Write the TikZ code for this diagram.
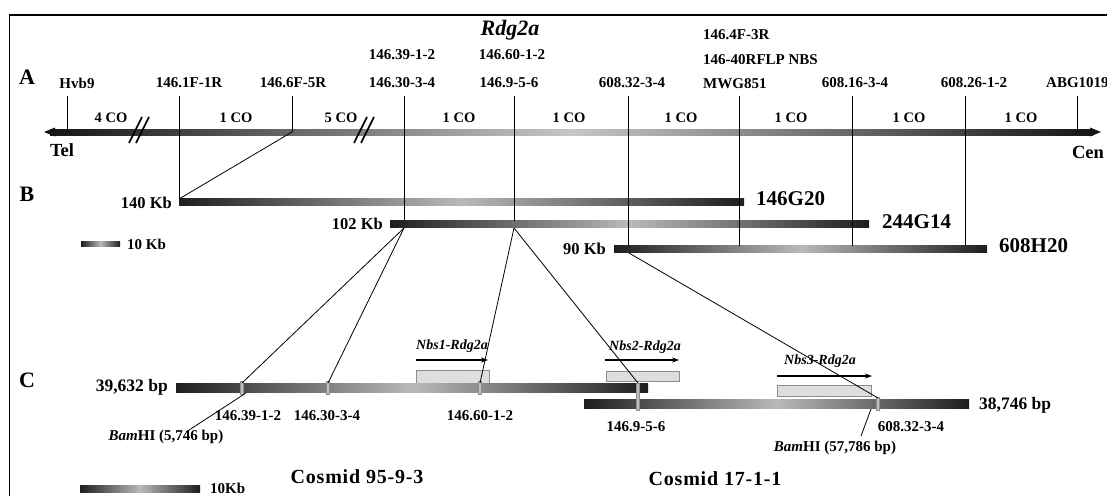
\documentclass[tikz,border=0pt]{standalone}
\usepackage{fontspec}
\setmainfont{Liberation Serif}
\usepackage{xcolor}
\usepackage{tikz}
\usetikzlibrary{backgrounds}
\usetikzlibrary{arrows.meta}
\pgfdeclarelayer{edgelayer}
\pgfdeclarelayer{nodelayer}
\pgfsetlayers{background,edgelayer,nodelayer,main}
\definecolor{barDark}{RGB}{30,30,30}
\definecolor{barLight}{RGB}{185,185,185}
\definecolor{boxFill}{RGB}{222,222,222}
\tikzstyle{none}=[inner sep=0mm]
\tikzstyle{mrk}=[inner sep=0pt,font=\bfseries\fontsize{15}{17}\selectfont]
\tikzstyle{co}=[inner sep=0pt,font=\bfseries\fontsize{14.5}{16}\selectfont]
\tikzstyle{sec}=[inner sep=0pt,font=\bfseries\fontsize{22}{24}\selectfont]
\tikzstyle{ttl}=[inner sep=0pt,font=\bfseries\itshape\fontsize{22}{24}\selectfont]
\tikzstyle{arm}=[inner sep=0pt,font=\bfseries\fontsize{18.5}{20}\selectfont]
\tikzstyle{kbl}=[inner sep=0pt,anchor=east,font=\bfseries\fontsize{16.5}{18}\selectfont]
\tikzstyle{clone}=[inner sep=0pt,anchor=west,font=\bfseries\fontsize{21}{23}\selectfont]
\tikzstyle{bpl}=[inner sep=0pt,font=\bfseries\fontsize{17.5}{19}\selectfont]
\tikzstyle{gene}=[inner sep=0pt,font=\bfseries\itshape\fontsize{14}{16}\selectfont]
\tikzstyle{cosmid}=[inner sep=0pt,font=\bfseries\fontsize{20}{22}\selectfont\addfontfeature{LetterSpace=4}]
\tikzstyle{bar}=[left color=barDark,right color=barDark,middle color=barLight]
\tikzstyle{cmark}=[fill=black!25,draw=black!45,line width=0.4pt]
\tikzstyle{nbsbox}=[fill=boxFill,draw=black!45,line width=0.6pt]
\tikzstyle{nbsarrow}=[line width=2.4pt,-{Stealth[length=7pt,width=5pt]}]
\tikzstyle{link}=[line width=0.8pt]
\tikzstyle{brk}=[line width=1.6pt]

\begin{document}
\begin{tikzpicture}[x=1pt,y=-1pt]
	\useasboundingbox (0,0) rectangle (1107,495);
	\begin{pgfonlayer}{background}
		% frame
		\draw [line width=1.6pt] (9.5,530) -- (9.5,15) -- (1140,15);
		% chromosome
		\shade [left color=black!92,right color=black!92,middle color=black!22] (50,129) rectangle (1093,135);
		\fill [black!92] (44,132) -- (55,127.5) -- (55,136.5) -- cycle;
		\fill [black!92] (1101,132) -- (1090,127.5) -- (1090,136.5) -- cycle;
		\foreach \c in {139,364}
		{
			\draw [brk] (\c-10,143) -- (\c+3,117);
			\draw [brk] (\c-3,143) -- (\c+10,117);
		}
		% BAC clones
		\shade [bar] (179,198.5) rectangle (744,205.5);
		\shade [bar] (390,220.5) rectangle (869,227.5);
		\shade [bar] (614,245.5) rectangle (987,252.5);
		\shade [bar] (81,241.5) rectangle (120,246.5);
		% cosmids
		\filldraw [nbsbox] (416,370) rectangle (489,383);
		\filldraw [nbsbox] (606,371) rectangle (679,381);
		\filldraw [nbsbox] (777,385) rectangle (871,396);
		\shade [bar] (176,383) rectangle (648,392);
		\shade [bar] (584,399.5) rectangle (969,408.5);
		\shade [bar] (80,485) rectangle (200,492);
		\filldraw [cmark] (240.5,381) rectangle (243.5,394);
		\filldraw [cmark] (326.5,381) rectangle (329.5,394);
		\filldraw [cmark] (478.5,381) rectangle (481.5,394);
		\filldraw [cmark] (636.5,383) rectangle (639.5,410);
		\filldraw [cmark] (876.5,397) rectangle (879.5,410);
	\end{pgfonlayer}
	\begin{pgfonlayer}{nodelayer}
		\node [sec] (secA) at (27,77) {A};
		\node [sec] (secB) at (27,194) {B};
		\node [sec] (secC) at (27,380) {C};
		\node [ttl] (title) at (510,30) {Rdg2a};
		% tick tops
		\node [style=none] (h0) at (67,96) {};
		\node [style=none] (h1) at (179,96) {};
		\node [style=none] (h2) at (292,96) {};
		\node [style=none] (h3) at (404,96) {};
		\node [style=none] (h4) at (514,96) {};
		\node [style=none] (h5) at (628,96) {};
		\node [style=none] (h6) at (739,96) {};
		\node [style=none] (h7) at (852,96) {};
		\node [style=none] (h8) at (965,96) {};
		\node [style=none] (h9) at (1077,96) {};
		\node [style=none] (c0) at (67,132) {};
		\node [style=none] (c2) at (292,132) {};
		\node [style=none] (c9) at (1077,132) {};
		% clone ends
		\node [style=none] (b1) at (179,199) {};
		\node [style=none] (b3) at (404,221) {};
		\node [style=none] (b4) at (514,221) {};
		\node [style=none] (b5) at (628,246) {};
		\node [style=none] (b6) at (739,246) {};
		\node [style=none] (b7) at (852,246) {};
		\node [style=none] (b8) at (965,246) {};
		\node [style=none] (d3) at (404,228) {};
		\node [style=none] (d4) at (514,228) {};
		\node [style=none] (d5) at (629,253) {};
		% cosmid markers
		\node [style=none] (m1) at (242,383) {};
		\node [style=none] (m2) at (328,383) {};
		\node [style=none] (m3) at (480,383) {};
		\node [style=none] (m4) at (638,383) {};
		\node [style=none] (m5) at (878,398) {};
		\node [style=none] (k1) at (246,393) {};
		\node [style=none] (q1) at (186,432) {};
		\node [style=none] (k2) at (871,409) {};
		\node [style=none] (q2) at (861,436) {};
		\node [style=none] (a1s) at (416,360) {};
		\node [style=none] (a1e) at (488,360) {};
		\node [style=none] (a2s) at (605,360) {};
		\node [style=none] (a2e) at (679,360) {};
		\node [style=none] (a3s) at (777,376) {};
		\node [style=none] (a3e) at (872,376) {};
		% marker names
		\node [mrk] (lHvb) at (77,83) {Hvb9};
		\node [mrk] (l1F) at (189,83) {146.1F-1R};
		\node [mrk] (l6F) at (293,83) {146.6F-5R};
		\node [mrk] (l30) at (402,83) {146.30-3-4};
		\node [mrk] (l39) at (402,55) {146.39-1-2};
		\node [mrk] (l9) at (509,83) {146.9-5-6};
		\node [mrk] (l60) at (512,55) {146.60-1-2};
		\node [mrk] (l32) at (632,83) {608.32-3-4};
		\node [mrk,anchor=west] (lMWG) at (703,84) {MWG851};
		\node [mrk,anchor=west] (l40) at (703,60) {146-40RFLP NBS};
		\node [mrk,anchor=west] (l4F) at (703,35) {146.4F-3R};
		\node [mrk] (l16) at (855,83) {608.16-3-4};
		\node [mrk] (l26) at (974,83) {608.26-1-2};
		\node [mrk,anchor=west] (lABG) at (1046,83) {ABG1019};
		\foreach \x/\t in {111/4 CO,236/1 CO,341/5 CO,459/1 CO,569/1 CO,681/1 CO,791/1 CO,909/1 CO,1021/1 CO}
			\node [co] (co\x) at (\x,118) {\t};
		\node [arm] (tel) at (62,150) {Tel};
		\node [arm] (cen) at (1088,152) {Cen};
		% clone labels
		\node [kbl] (k140) at (172,203) {140 Kb};
		\node [kbl] (k102) at (383,224) {102 Kb};
		\node [kbl] (k90) at (606,249) {90 Kb};
		\node [clone] (g146) at (756,199) {146G20};
		\node [clone] (g244) at (882,222) {244G14};
		\node [clone] (g608) at (999,246) {608H20};
		\node [kbl,anchor=west,font=\bfseries\fontsize{15}{17}\selectfont] (s10) at (127,244) {10 Kb};
		% cosmid labels
		\node [bpl,anchor=east] (bp1) at (168,387) {39,632 bp};
		\node [bpl,anchor=west] (bp2) at (979,405) {38,746 bp};
		\node [mrk] (n39) at (248,416) {146.39-1-2};
		\node [mrk] (n30) at (327,416) {146.30-3-4};
		\node [mrk] (n60) at (480,416) {146.60-1-2};
		\node [mrk] (n9) at (636,427) {146.9-5-6};
		\node [mrk] (n32) at (911,427) {608.32-3-4};
		\node [mrk] (bam1) at (166,437) {\textit{Bam}HI (5,746 bp)};
		\node [mrk] (bam2) at (835,448) {\textit{Bam}HI (57,786 bp)};
		\node [gene] (nbs1) at (452,346) {Nbs1-Rdg2a};
		\node [gene] (nbs2) at (645,347) {Nbs2-Rdg2a};
		\node [gene] (nbs3) at (820,361) {Nbs3-Rdg2a};
		\node [cosmid] (cos1) at (357,477) {Cosmid 95-9-3};
		\node [cosmid] (cos2) at (715,479) {Cosmid 17-1-1};
		\node [mrk,anchor=west] (s10b) at (210,488.5) {10Kb};
	\end{pgfonlayer}
	\begin{pgfonlayer}{edgelayer}
		\draw [link] (h0.center) to (c0.center);
		\draw [link] (h9.center) to (c9.center);
		\draw [link] (h1.center) to (b1.center);
		\draw [link] (h2.center) to (c2.center);
		\draw [link] (c2.center) to (b1.center);
		\draw [link] (h3.center) to (b3.center);
		\draw [link] (h4.center) to (b4.center);
		\draw [link] (h5.center) to (b5.center);
		\draw [link] (h6.center) to (b6.center);
		\draw [link] (h7.center) to (b7.center);
		\draw [link] (h8.center) to (b8.center);
		\draw [link] (d3.center) to (m1.center);
		\draw [link] (d3.center) to (m2.center);
		\draw [link] (d4.center) to (m3.center);
		\draw [link] (d4.center) to (m4.center);
		\draw [link] (d5.center) to (m5.center);
		\draw [link] (k1.center) to (q1.center);
		\draw [link] (k2.center) to (q2.center);
		\draw [nbsarrow] (a1s.center) to (a1e.center);
		\draw [nbsarrow] (a2s.center) to (a2e.center);
		\draw [nbsarrow] (a3s.center) to (a3e.center);
	\end{pgfonlayer}
\end{tikzpicture}
\end{document}
